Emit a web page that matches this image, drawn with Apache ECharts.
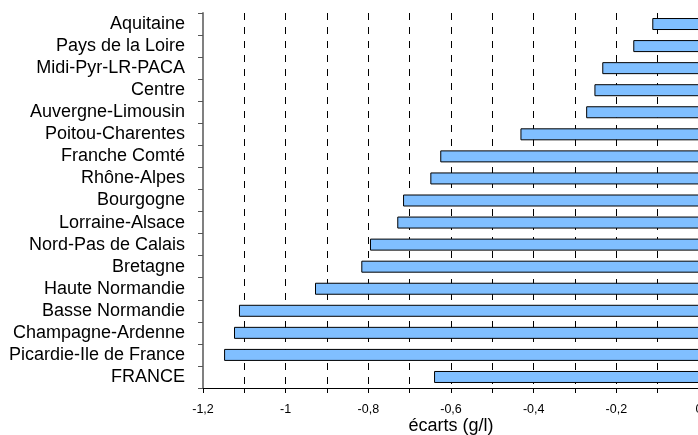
<!DOCTYPE html>
<html><head><meta charset="utf-8">
<script src="https://cdn.jsdelivr.net/npm/echarts@6/dist/echarts.min.js"></script>
<style>html,body{margin:0;padding:0;background:#fff}#c{width:698px;height:435px}</style>
</head><body><div id="c"></div>
<script>
var categories = ["Aquitaine","Pays de la Loire","Midi-Pyr-LR-PACA","Centre","Auvergne-Limousin","Poitou-Charentes","Franche Comté","Rhône-Alpes","Bourgogne","Lorraine-Alsace","Nord-Pas de Calais","Bretagne","Haute Normandie","Basse Normandie","Champagne-Ardenne","Picardie-Ile de France","FRANCE"];
var ecarts = [-0.113,-0.159,-0.234,-0.253,-0.273,-0.432,-0.626,-0.650,-0.716,-0.730,-0.796,-0.817,-0.929,-1.113,-1.125,-1.149,-0.641];
var tickValues = [-1.2,-1.0,-0.8,-0.6,-0.4,-0.2,0];
var tickLabels = ["-1,2","-1","-0,8","-0,6","-0,4","-0,2","0"];
var font = "'Liberation Sans', Arial, sans-serif";
var chart = echarts.init(document.getElementById('c'), null, {renderer:'canvas'});
chart.setOption({
  animation:false,
  grid:{left:203,right:-1,top:13,bottom:47,containLabel:false,outerBoundsMode:'none'},
  xAxis:{type:'value',min:-1.2,max:0,interval:0.1,
    name:'écarts (g/l)',nameLocation:'middle',nameGap:29,nameMoveOverlap:false,
    nameTextStyle:{fontFamily:font,fontSize:18,color:'#000'},
    axisLine:{show:true,onZero:false,lineStyle:{color:'#000',width:1}},
    axisTick:{show:true,length:5,lineStyle:{color:'#000'}},
    axisLabel:{margin:15,fontFamily:font,fontSize:12.5,color:'#000',hideOverlap:false,showMaxLabel:true,showMinLabel:true,
      formatter:function(v){for(var i=0;i<tickValues.length;i++){if(Math.abs(tickValues[i]-v)<1e-6)return tickLabels[i];}return '';}},
    splitLine:{show:true,showMaxLine:false,showMinLine:false,lineStyle:{color:'#000',type:[7,7],width:1}}
  },
  yAxis:{type:'category',data:categories,inverse:true,
    axisLine:{show:true,onZero:false,lineStyle:{color:'#808080',width:2}},
    axisTick:{show:true,length:5,interval:0,lineStyle:{color:'#555',width:1}},
    axisLabel:{margin:18,interval:0,hideOverlap:false,fontFamily:font,fontSize:18,color:'#000'},
    splitLine:{show:false}
  },
  series:[{type:'bar',data:ecarts,barWidth:12,
    itemStyle:{color:'#80bfff',borderColor:'#000',borderWidth:1}}]
});
</script></body></html>
